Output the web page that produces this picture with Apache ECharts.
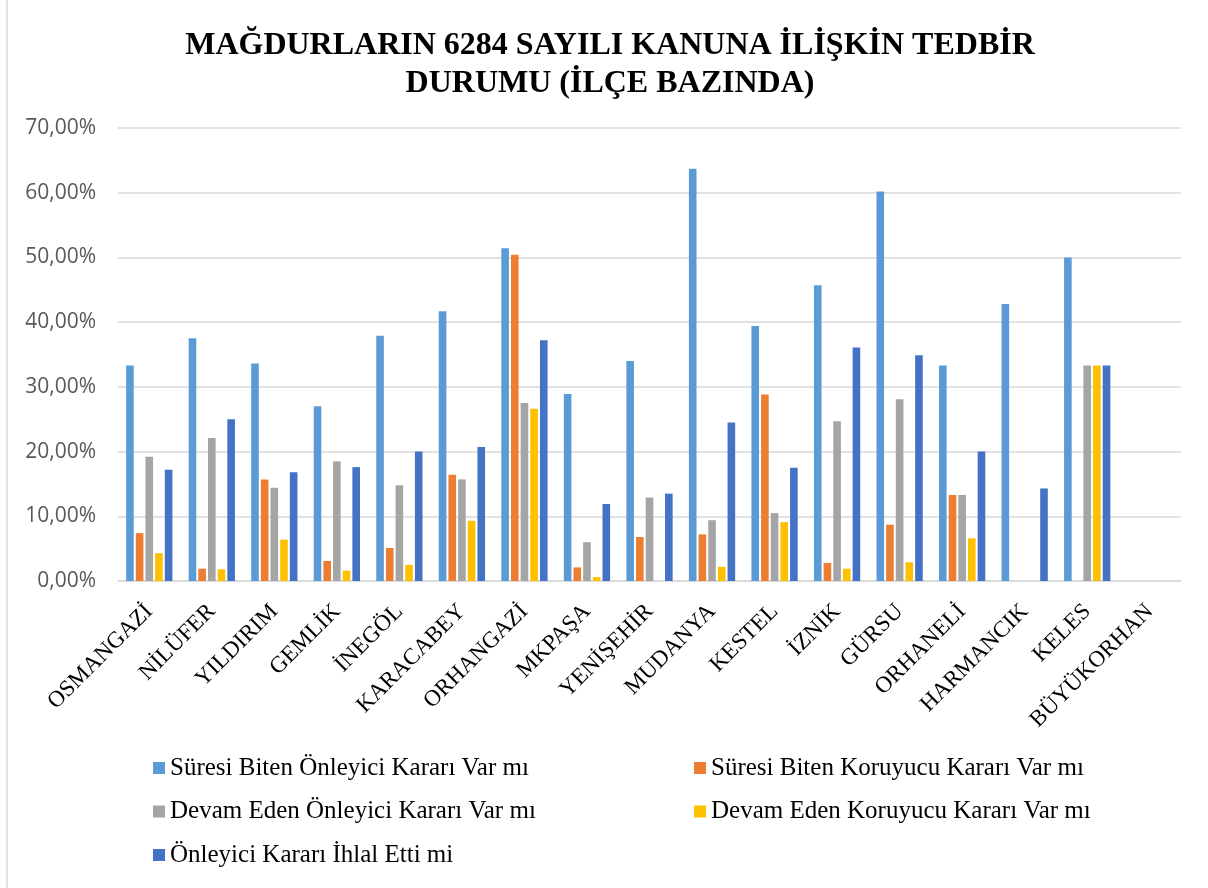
<!DOCTYPE html>
<html>
<head>
<meta charset="utf-8">
<script src="https://cdn.jsdelivr.net/npm/echarts@6/dist/echarts.min.js"></script>
<style>
html,body{margin:0;padding:0;background:#fff;}
#c{width:1208px;height:888px;}
</style>
</head>
<body>
<div id="c"></div>
<script>
const titleText = 'MAĞDURLARIN 6284 SAYILI KANUNA İLİŞKİN TEDBİR\nDURUMU (İLÇE BAZINDA)';
const categories = ['OSMANGAZİ','NİLÜFER','YILDIRIM','GEMLİK','İNEGÖL','KARACABEY','ORHANGAZİ','MKPAŞA','YENİŞEHİR','MUDANYA','KESTEL','İZNİK','GÜRSU','ORHANELİ','HARMANCIK','KELES','BÜYÜKORHAN'];
const seriesNames = ['Süresi Biten Önleyici Kararı Var mı','Süresi Biten Koruyucu Kararı Var mı','Devam Eden Önleyici Kararı Var mı','Devam Eden Koruyucu Kararı Var mı','Önleyici Kararı İhlal Etti mi'];
const sureBitenOnleyici = [33.3, 37.5, 33.6, 27.0, 37.9, 41.7, 51.4, 28.9, 34.0, 63.7, 39.4, 45.7, 60.2, 33.3, 42.8, 50.0, 0];
const sureBitenKoruyucu = [7.4, 1.9, 15.7, 3.1, 5.1, 16.4, 50.4, 2.1, 6.8, 7.2, 28.8, 2.8, 8.7, 13.3, 0, 0, 0];
const devamEdenOnleyici = [19.2, 22.1, 14.4, 18.5, 14.8, 15.7, 27.5, 6.0, 12.9, 9.4, 10.5, 24.7, 28.1, 13.3, 0, 33.3, 0];
const devamEdenKoruyucu = [4.3, 1.8, 6.4, 1.6, 2.5, 9.3, 26.6, 0.6, 0, 2.2, 9.1, 1.9, 2.9, 6.6, 0, 33.3, 0];
const onleyiciIhlal = [17.2, 25.0, 16.8, 17.6, 20.0, 20.7, 37.2, 11.9, 13.5, 24.5, 17.5, 36.1, 34.9, 20.0, 14.3, 33.3, 0];
const yTicks = [0, 10, 20, 30, 40, 50, 60, 70];

const colors = ['#5B9BD5','#ED7D31','#A5A5A5','#FFC000','#4472C4'];
const values = [sureBitenOnleyici, sureBitenKoruyucu, devamEdenOnleyici, devamEdenKoruyucu, onleyiciIhlal];

const chart = echarts.init(document.getElementById('c'), null, {renderer:'canvas'});
const legendText = {fontFamily:'"Liberation Serif","Times New Roman",serif', fontSize:25, color:'#000', lineHeight:26};
chart.setOption({
  animation:false,
  color: colors,
  title:{
    text: titleText,
    left:605,
    textAlign:'center',
    top:22,
    textStyle:{fontFamily:'"Liberation Serif","Times New Roman",serif', fontWeight:'bold', fontSize:32, color:'#000', lineHeight:38}
  },
  grid:{left:118, right:27, top:128, bottom:307, containLabel:false},
  legend:[
    {left:153, top:755, padding:0, orient:'vertical', itemGap:17.5, itemWidth:12, itemHeight:12, icon:'rect',
     data:[seriesNames[0], seriesNames[2], seriesNames[4]], textStyle:legendText, selectedMode:false},
    {left:694, top:755, padding:0, orient:'vertical', itemGap:17.5, itemWidth:12, itemHeight:12, icon:'rect',
     data:[seriesNames[1], seriesNames[3]], textStyle:legendText, selectedMode:false}
  ],
  xAxis:{
    type:'category',
    data: categories,
    axisLine:{show:true, lineStyle:{color:'#d9d9d9', width:1.5}},
    axisTick:{show:false},
    axisLabel:{rotate:45, interval:0, margin:27, fontFamily:'"Liberation Serif","Times New Roman",serif', fontSize:23, color:'#000'}
  },
  yAxis:{
    type:'value',
    min: yTicks[0], max: yTicks[yTicks.length-1], interval: 10,
    axisLine:{show:false},
    axisTick:{show:false},
    splitLine:{lineStyle:{color:'#d9d9d9', width:1.5}},
    axisLabel:{margin:22, fontFamily:'"Open Sans",Lato,sans-serif', fontSize:21, color:'#595959',
      formatter:function(v){return v.toFixed(2).replace('.', ',') + '%';}}
  },
  series: seriesNames.map(function(n, i){
    return {name:n, type:'bar', data: values[i], barGap:'27%', barCategoryGap:'26%',
      itemStyle:{color: colors[i]}};
  }),
  graphic:[
    {type:'line', shape:{x1:7, y1:0, x2:7, y2:888}, style:{stroke:'#d9d9d9', lineWidth:1.5}, silent:true}
  ]
});
</script>
</body>
</html>
